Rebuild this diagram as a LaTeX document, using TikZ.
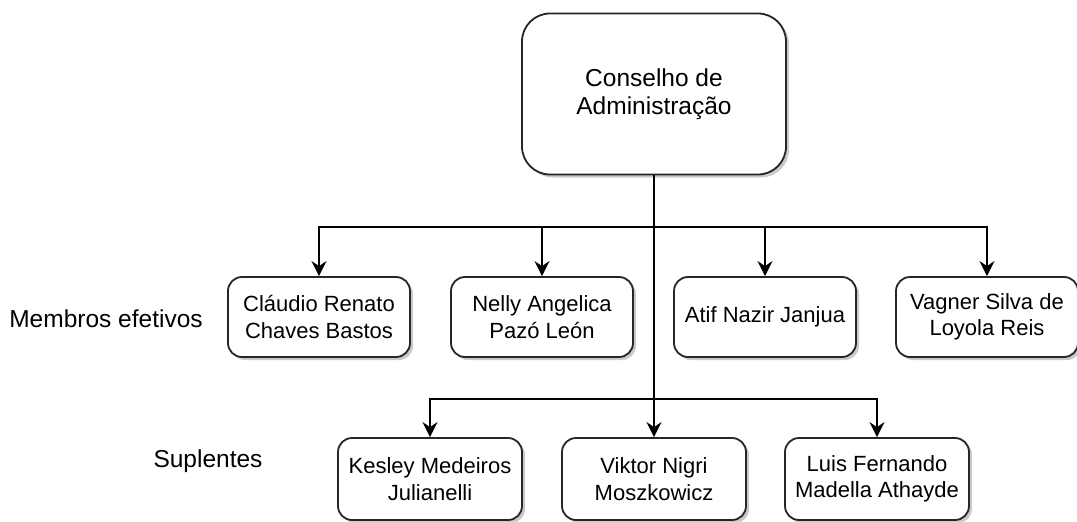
\documentclass[tikz,border=0pt]{standalone}
\usepackage{fontspec}
\setmainfont{Liberation Sans}
\usetikzlibrary{arrows.meta,shadows}
\begin{document}
\begin{tikzpicture}[x=1pt,y=-1pt,
  txt/.style={font=\fontsize{22}{26.5}\selectfont, align=center, text=black},
  bigtxt/.style={txt, font=\fontsize{24.5}{28}\selectfont},
  orgbox/.style={txt, draw=black!85, line width=1.8pt, fill=white, rounded corners=14pt,
    minimum width=182pt, minimum height=80pt, inner sep=0pt,
    drop shadow={shadow xshift=3pt, shadow yshift=-3pt, opacity=0.35, fill=black!60}},
  topbox/.style={orgbox, bigtxt, minimum width=264pt, minimum height=161pt, rounded corners=28pt},
  link/.style={draw=black, line width=1.9pt, -{Stealth[length=15pt, width=15pt, inset=5pt]}},
]
\useasboundingbox (0,0) rectangle (1077,522);

\node[topbox] (top) at (654,94) {Conselho de\\Administração};

\node[orgbox] (m1) at (319,317) {Cláudio Renato\\Chaves Bastos};
\node[orgbox] (m2) at (542,317) {Nelly Angelica\\Pazó León};
\node[orgbox] (m3) at (765,317) {Atif Nazir Janjua};
\node[orgbox] (m4) at (987,317) {Vagner Silva de\\Loyola Reis};

\node[orgbox, minimum width=184pt, minimum height=82pt] (s1) at (430,479) {Kesley Medeiros\\Julianelli};
\node[orgbox, minimum width=184pt, minimum height=82pt] (s2) at (654,479) {Viktor Nigri\\Moszkowicz};
\node[orgbox, minimum width=184pt, minimum height=82pt] (s3) at (877,479) {Luis Fernando\\Madella Athayde};

\node[bigtxt] (lm) at (106,319) {Membros efetivos};
\node[bigtxt] (ls) at (208,461) {Suplentes};

\foreach \c in {m1,m2,m3,m4}
  \draw[link] (top.south) -- ++(0,52) -| (\c.north);
\foreach \c in {s1,s3}
  \draw[link] (top.south) -- ++(0,224) -| (\c.north);
\draw[link] (top.south) -- (s2.north);
\end{tikzpicture}
\end{document}
